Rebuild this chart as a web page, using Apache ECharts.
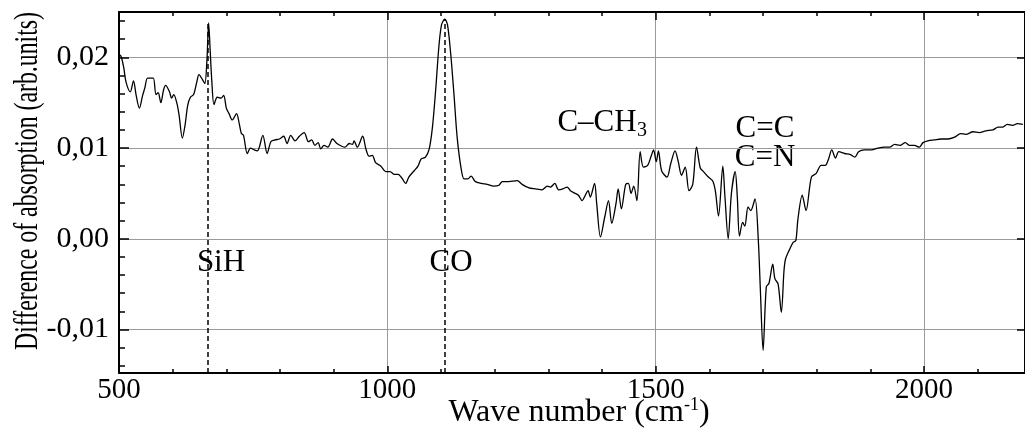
<!DOCTYPE html>
<html><head><meta charset="utf-8">
<script src="https://cdn.jsdelivr.net/npm/echarts@6/dist/echarts.min.js"></script>
<style>html,body{margin:0;padding:0;background:#fff}#c{width:1025px;height:430px}</style>
</head><body><div id="c"></div>
<script>
const wavenumber = [500,504,509,513,521,527,532,538,544,548,553,559,564,569,573,578,583,587,594,598,602,608,612,618,623,628,633,639,645,649,656,660,664,667,670,673,677,683,690,695,700,705,711,719,724,728,732,739,745,752,758,768,776,783,791,799,807,813,820,828,836,845,853,859,865,871,876,882,889,898,906,915,921,929,935,938,944,954,960,966,972,978,988,997,1005,1013,1020,1028,1034,1040,1050,1057,1063,1071,1078,1084,1090,1096,1101,1107,1112,1118,1124,1130,1137,1143,1150,1156,1164,1175,1186,1198,1208,1214,1226,1242,1251,1264,1276,1288,1298,1304,1312,1319,1327,1335,1341,1350,1356,1363,1368,1374,1378,1386,1390,1397,1405,1412,1418,1426,1430,1436,1444,1449,1454,1459,1465,1471,1477,1485,1492,1496,1501,1505,1511,1521,1528,1536,1542,1548,1555,1562,1569,1576,1583,1589,1598,1606,1611,1617,1625,1629,1635,1641,1648,1652,1656,1662,1666,1672,1677,1685,1691,1695,1700,1706,1711,1718,1722,1728,1734,1739,1742,1750,1756,1761,1765,1773,1780,1790,1799,1808,1816,1822,1828,1835,1841,1852,1862,1871,1878,1889,1902,1914,1927,1936,1945,1955,1965,1973,1982,1991,1998,2007,2019,2032,2044,2057,2068,2078,2091,2103,2115,2128,2138,2146,2155,2165,2174,2184];
const absorbance = [0.0203,0.0201,0.0188,0.0173,0.0162,0.0174,0.0158,0.0144,0.0158,0.0166,0.0177,0.0177,0.0177,0.0159,0.0161,0.0150,0.0164,0.0169,0.0162,0.0155,0.0159,0.0149,0.0136,0.0111,0.0125,0.0147,0.0156,0.0159,0.0173,0.0181,0.0175,0.0171,0.0199,0.0238,0.0206,0.0173,0.0148,0.0156,0.0155,0.0158,0.0144,0.0138,0.0131,0.0138,0.0127,0.0116,0.0114,0.0094,0.0100,0.0098,0.0097,0.0114,0.0094,0.0107,0.0109,0.0110,0.0113,0.0105,0.0114,0.0108,0.0113,0.0117,0.0107,0.0109,0.0103,0.0106,0.0099,0.0103,0.0101,0.0110,0.0105,0.0102,0.0101,0.0105,0.0104,0.0108,0.0101,0.0113,0.0099,0.0091,0.0092,0.0084,0.0080,0.0074,0.0074,0.0071,0.0071,0.0066,0.0061,0.0068,0.0075,0.0080,0.0088,0.0090,0.0099,0.0123,0.0164,0.0212,0.0236,0.0242,0.0236,0.0204,0.0160,0.0112,0.0079,0.0066,0.0066,0.0069,0.0063,0.0061,0.0060,0.0058,0.0059,0.0063,0.0063,0.0064,0.0060,0.0056,0.0055,0.0054,0.0058,0.0057,0.0061,0.0054,0.0055,0.0057,0.0053,0.0050,0.0048,0.0042,0.0047,0.0053,0.0046,0.0061,0.0039,0.0002,0.0024,0.0042,0.0017,0.0039,0.0055,0.0033,0.0060,0.0061,0.0050,0.0058,0.0042,0.0096,0.0079,0.0081,0.0092,0.0098,0.0085,0.0097,0.0075,0.0068,0.0083,0.0097,0.0085,0.0070,0.0079,0.0053,0.0060,0.0101,0.0078,0.0074,0.0068,0.0064,0.0053,0.0025,0.0080,0.0046,0.0000,0.0050,0.0074,0.0046,0.0003,0.0018,0.0014,0.0035,0.0031,0.0044,0.0000,-0.0057,-0.0123,-0.0053,-0.0049,-0.0028,-0.0044,-0.0050,-0.0081,-0.0035,-0.0022,-0.0011,-0.0004,-0.0002,0.0022,0.0048,0.0031,0.0068,0.0072,0.0081,0.0081,0.0088,0.0098,0.0089,0.0096,0.0094,0.0093,0.0090,0.0096,0.0098,0.0098,0.0100,0.0101,0.0101,0.0104,0.0103,0.0106,0.0103,0.0103,0.0101,0.0106,0.0108,0.0109,0.0110,0.0110,0.0112,0.0116,0.0115,0.0118,0.0117,0.0119,0.0120,0.0123,0.0123,0.0126,0.0125,0.0127,0.0126];
const peakWavenumbers = [665, 1107];
const peakTops = [0.0238, 0.0242];
const yMajorTicks = [-0.01, 0, 0.01, 0.02];
const yMinorTicks = [-0.014, -0.012, -0.008, -0.006, -0.004, -0.002, 0.002, 0.004, 0.006, 0.008, 0.012, 0.014, 0.016, 0.018, 0.022, 0.024];
const xTitle = 'Wave number (cm';
const xTitleSup = '-1';
const yTitle = 'Difference of absorption (arb.units)';

const xMin = 500, xMax = 2188, yMin = -0.0148, yMax = 0.025;
const FONT = '"Liberation Serif","Times New Roman",serif';
const chart = echarts.init(document.getElementById('c'), null, {renderer: 'canvas'});
const points = wavenumber.map((w, i) => [w, absorbance[i]]);
const fmtY = v => (Math.abs(v) < 1e-9 ? 0 : v).toFixed(2).replace('.', ',');

const axisLine = {onZero: false, lineStyle: {color: '#000', width: 2}};
const option = {
  animation: false,
  backgroundColor: '#fff',
  grid: {left: 119, right: -2, top: 12, bottom: 57},
  xAxis: [{
    type: 'value', min: xMin, max: xMax, interval: 500, position: 'bottom',
    axisLine: axisLine,
    axisTick: {inside: true, length: 7, lineStyle: {color: '#000', width: 1.5}},
    minorTick: {show: true, splitNumber: 5, length: 4, lineStyle: {color: '#000', width: 1.5}},
    axisLabel: {color: '#000', fontFamily: FONT, fontSize: 29, margin: 3, showMaxLabel: false, formatter: v => String(Math.round(v))},
    splitLine: {show: true, lineStyle: {color: '#9a9a9a', width: 1}}
  }, {
    type: 'value', min: xMin, max: xMax, interval: 500, position: 'top',
    axisLine: axisLine,
    axisTick: {inside: true, length: 8, lineStyle: {color: '#000', width: 1.5}},
    minorTick: {show: true, splitNumber: 5, length: 4, lineStyle: {color: '#000', width: 1.5}},
    axisLabel: {show: false}, splitLine: {show: false}
  }],
  yAxis: [{
    type: 'value', min: yMin, max: yMax, position: 'left',
    axisLine: axisLine,
    axisTick: {inside: true, length: 10, customValues: yMajorTicks, lineStyle: {color: '#000', width: 1.5}},
    axisLabel: {color: '#000', fontFamily: FONT, fontSize: 30, margin: 10, customValues: yMajorTicks, formatter: fmtY},
    splitLine: {show: true, lineStyle: {color: '#9a9a9a', width: 1}}
  }, {
    type: 'value', min: yMin, max: yMax, position: 'left',
    axisLine: {show: false, onZero: false},
    axisTick: {inside: true, length: 6, customValues: yMinorTicks, lineStyle: {color: '#000', width: 1.5}},
    axisLabel: {show: false}, splitLine: {show: false}
  }, {
    type: 'value', min: yMin, max: yMax, position: 'right',
    axisLine: axisLine,
    axisTick: {inside: true, length: 8, customValues: yMajorTicks, lineStyle: {color: '#000', width: 1.5}},
    axisLabel: {show: false}, splitLine: {show: false}
  }],
  series: [{
    type: 'line', data: points, showSymbol: false, smooth: 0.3,
    lineStyle: {color: '#000', width: 1.3},
    markLine: {
      silent: true, symbol: ['none', 'none'], label: {show: false},
      lineStyle: {color: '#000', width: 1.5, type: [5, 3]},
      data: peakWavenumbers.map((w, i) => [{coord: [w, yMin]}, {coord: [w, peakTops[i]]}])
    }
  }],
  graphic: [
    {type: 'text', x: 28, y: 181, rotation: Math.PI / 2, scaleX: 0.7,
     style: {text: yTitle, font: '34px ' + FONT, fill: '#000', textAlign: 'center', textVerticalAlign: 'middle'}},
    {type: 'text', x: 579, y: 413,
     style: {text: '{n|' + xTitle + '}{p|' + xTitleSup + '}{n|)}', fill: '#000', textAlign: 'center', textVerticalAlign: 'middle',
       rich: {n: {fontFamily: FONT, fontSize: 32, lineHeight: 33, fill: '#000'},
              p: {fontFamily: FONT, fontSize: 18, lineHeight: 18, verticalAlign: 'top', fill: '#000'}}}},
    {type: 'text', x: 221, y: 263, style: {text: 'SiH', font: '31px ' + FONT, fill: '#000', textAlign: 'center', textVerticalAlign: 'middle'}},
    {type: 'text', x: 451, y: 263, style: {text: 'CO', font: '31px ' + FONT, fill: '#000', textAlign: 'center', textVerticalAlign: 'middle'}},
    {type: 'text', x: 597, y: 123, style: {text: 'C–CH', font: '31px ' + FONT, fill: '#000', textAlign: 'center', textVerticalAlign: 'middle'}},
    {type: 'text', x: 642, y: 131, style: {text: '3', font: '20px ' + FONT, fill: '#000', textAlign: 'center', textVerticalAlign: 'middle'}},
    {type: 'text', x: 765, y: 129, style: {text: 'C=C', font: '31px ' + FONT, fill: '#000', textAlign: 'center', textVerticalAlign: 'middle'}},
    {type: 'text', x: 765, y: 158, style: {text: 'C=N', font: '31px ' + FONT, fill: '#000', textAlign: 'center', textVerticalAlign: 'middle'}}
  ]
};
chart.setOption(option);
</script>
</body></html>
